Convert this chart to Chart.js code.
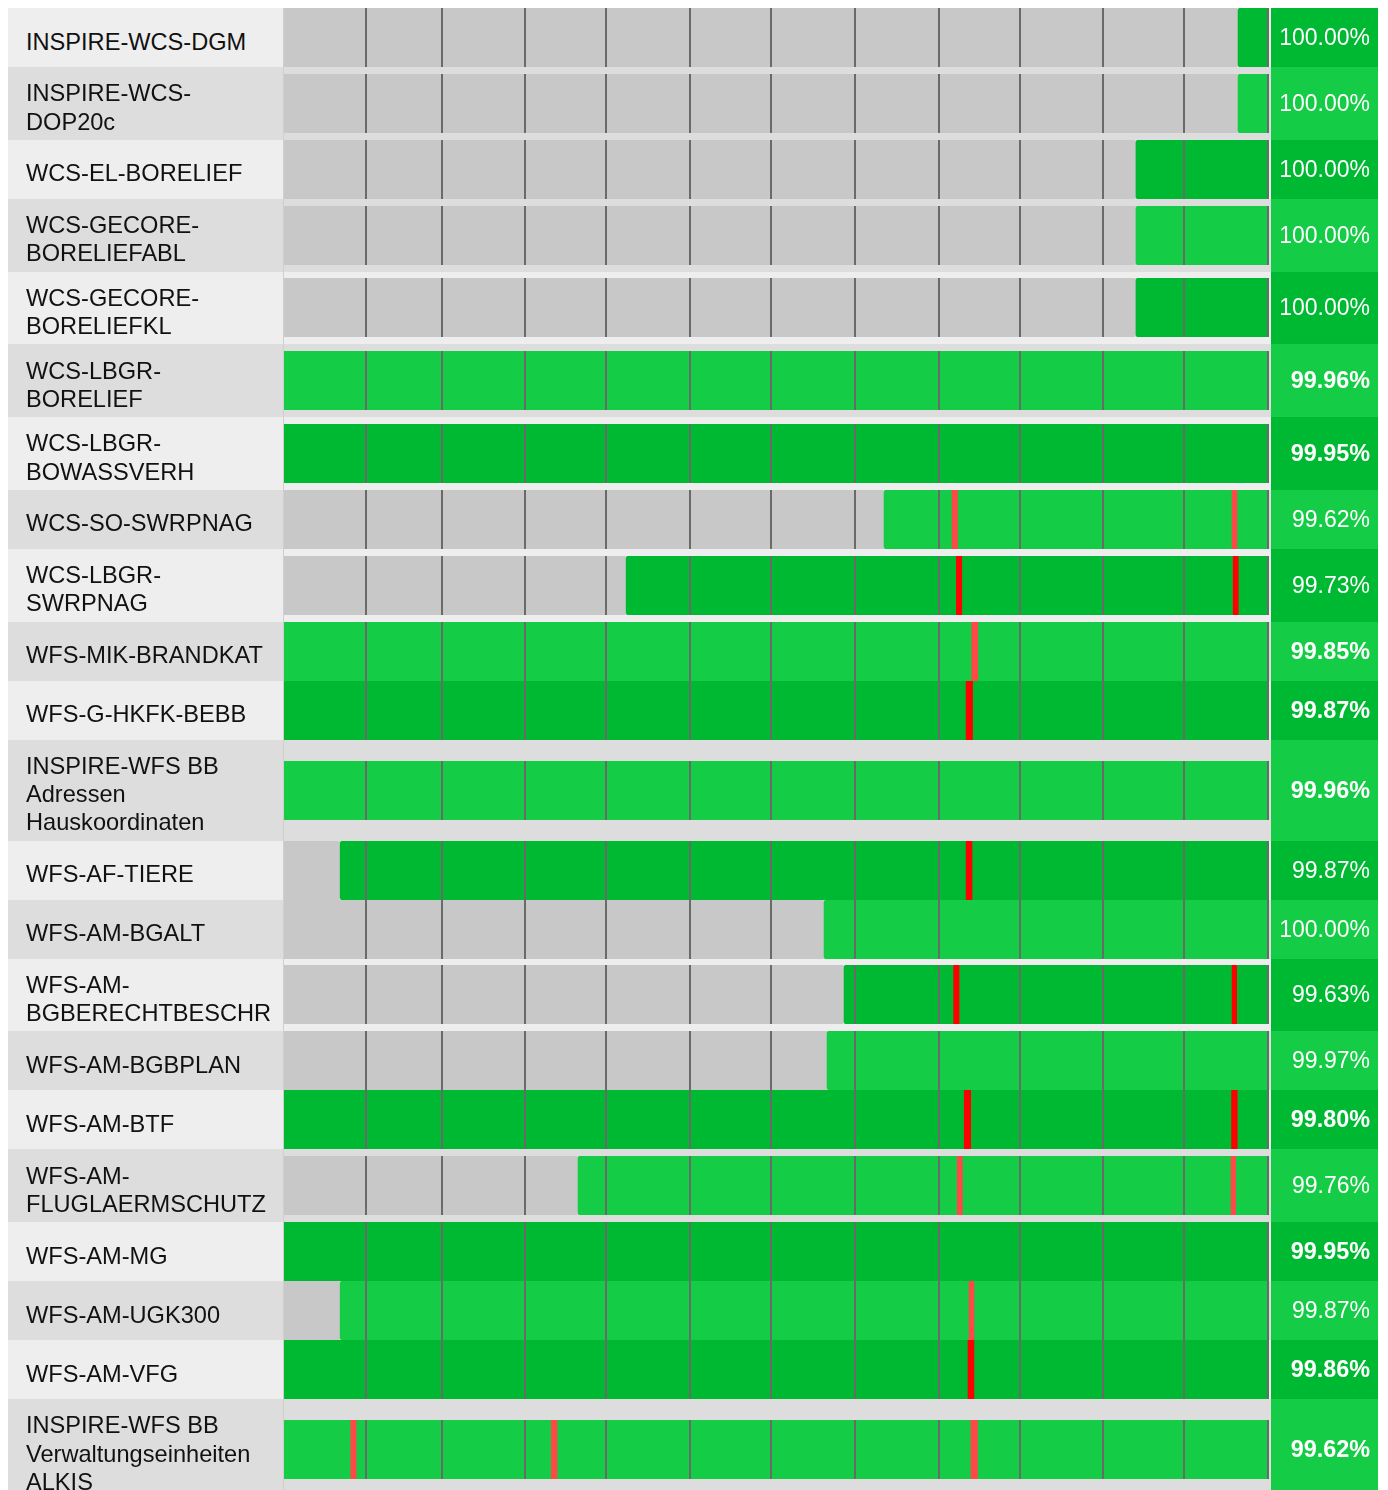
<!DOCTYPE html>
<html lang="de">
<head>
<meta charset="UTF-8">
<title>Verfügbarkeit Dienste</title>
<script src="https://cdn.jsdelivr.net/npm/chart.js"></script>
<style>
    * { margin: 0; padding: 0; box-sizing: border-box; }
    body { margin: 8px; background: #fff; font-family: "Liberation Sans", Arial, sans-serif; }
    table { border-collapse: separate; border-spacing: 0; table-layout: fixed; width: 1370px; }
    td { vertical-align: middle; }
    td.name {
        padding: 12.25px 2px 4px 18px; font-size: 23.6px; line-height: 28.25px;
        color: #111; white-space: pre-line; border-right: 1px solid #cfcfcf;
    }
    td.bars { padding: 0; }
    td.pct { text-align: right; padding-right: 8px; color: #fff; font-size: 23px; }
    td.pct.bold { font-weight: bold; font-size: 23.4px; }
    tr.odd td.name, tr.odd td.bars { background: #eeeeee; }
    tr.even td.name, tr.even td.bars { background: #dddddd; }
    tr.odd td.pct { background: #00b933; }
    tr.even td.pct { background: #14cc45; }
    .wrap { width: 986px; height: 59px; }
</style>
</head>
<body>
<table id="tbl">
    <colgroup><col style="width:276px"><col style="width:987px"><col style="width:107px"></colgroup>
    <tbody id="rows"></tbody>
</table>

<script>
    // days of the year, month borders used as grid lines
    const DAYS = 365;
    const monthTicks = [31, 59, 90, 120, 151, 181, 212, 243, 273, 304, 334, 365];

    const services = [
        "INSPIRE-WCS-DGM",
        "INSPIRE-WCS-\nDOP20c",
        "WCS-EL-BORELIEF",
        "WCS-GECORE-\nBORELIEFABL",
        "WCS-GECORE-\nBORELIEFKL",
        "WCS-LBGR-\nBORELIEF",
        "WCS-LBGR-\nBOWASSVERH",
        "WCS-SO-SWRPNAG",
        "WCS-LBGR-\nSWRPNAG",
        "WFS-MIK-BRANDKAT",
        "WFS-G-HKFK-BEBB",
        "INSPIRE-WFS BB\nAdressen\nHauskoordinaten",
        "WFS-AF-TIERE",
        "WFS-AM-BGALT",
        "WFS-AM-\nBGBERECHTBESCHR",
        "WFS-AM-BGBPLAN",
        "WFS-AM-BTF",
        "WFS-AM-\nFLUGLAERMSCHUTZ",
        "WFS-AM-MG",
        "WFS-AM-UGK300",
        "WFS-AM-VFG",
        "INSPIRE-WFS BB\nVerwaltungseinheiten\nALKIS"
    ];

    // day on which monitoring started (grey before)
    const monitoredFrom = [353.9, 353.9, 316.1, 316.1, 316.1, 0, 0, 222.8, 127.3, 0, 0, 0, 21.4, 200.6, 208, 201.7, 0, 109.5, 0, 21.4, 0, 0];

    const uptime = [100.00, 100.00, 100.00, 100.00, 100.00, 99.96, 99.95, 99.62, 99.73, 99.85, 99.87,
                    99.96, 99.87, 100.00, 99.63, 99.97, 99.80, 99.76, 99.95, 99.87, 99.86, 99.62];

    // outage periods [from, to] in days
    const outages = [
        [], [], [], [], [], [], [],
        [[248, 250], [351.7, 353.5]],
        [[249.6, 251.6], [352.1, 354]],
        [[255.3, 257.5]],
        [[253.2, 255.6]],
        [],
        [[253.2, 255.4]],
        [],
        [[248.6, 250.6], [351.7, 353.4]],
        [],
        [[252.5, 254.9], [351.5, 353.6]],
        [[249.9, 251.8], [351.3, 353]],
        [],
        [[254.3, 256.1]],
        [[253.9, 256.1]],
        [[25.3, 27.3], [99.6, 101.7], [255, 257.4]]
    ];

    const tbody = document.getElementById('rows');

    services.forEach((name, i) => {
        const odd = i % 2 === 0;
        const tr = document.createElement('tr');
        tr.className = odd ? 'odd' : 'even';

        const tdName = document.createElement('td');
        tdName.className = 'name';
        tdName.textContent = name;

        const tdBars = document.createElement('td');
        tdBars.className = 'bars';
        const wrap = document.createElement('div');
        wrap.className = 'wrap';
        const canvas = document.createElement('canvas');
        canvas.width = 986;
        canvas.height = 59;
        wrap.appendChild(canvas);
        tdBars.appendChild(wrap);

        const tdPct = document.createElement('td');
        tdPct.className = 'pct' + (monitoredFrom[i] === 0 ? ' bold' : '');
        tdPct.textContent = uptime[i].toFixed(2) + '%';

        tr.append(tdName, tdBars, tdPct);
        tbody.appendChild(tr);

        const green = odd ? '#00b933' : '#14cc45';
        const red = odd ? '#ff0000' : '#ff4848';
        const common = { grouped: false, barPercentage: 1, categoryPercentage: 1, borderSkipped: false };

        // lower order = drawn on top
        const datasets = [];
        if (monitoredFrom[i] > 0) {
            datasets.push({ ...common, order: 3, data: [[0, monitoredFrom[i]]], backgroundColor: '#c8c8c8', borderRadius: 3 });
        }
        datasets.push({ ...common, order: 2, data: [[monitoredFrom[i], DAYS]], backgroundColor: green, borderRadius: 3 });
        outages[i].forEach(o => {
            datasets.push({ ...common, order: 1, data: [o], backgroundColor: red, borderRadius: 0 });
        });

        new Chart(canvas, {
            type: 'bar',
            data: { labels: [name], datasets: datasets },
            options: {
                indexAxis: 'y',
                responsive: false,
                animation: false,
                layout: { padding: { left: 0, right: 2, top: 0, bottom: 0 } },
                plugins: { legend: { display: false }, tooltip: { enabled: false } },
                scales: {
                    x: {
                        type: 'linear', min: 0.6, max: DAYS,
                        afterBuildTicks: s => { s.ticks = monthTicks.map(v => ({ value: v })); },
                        ticks: { display: false },
                        grid: { color: '#6a6a6a', lineWidth: 2, drawTicks: false, z: 1 },
                        border: { display: false }
                    },
                    y: { display: false }
                }
            }
        });
    });
</script>
</body>
</html>
